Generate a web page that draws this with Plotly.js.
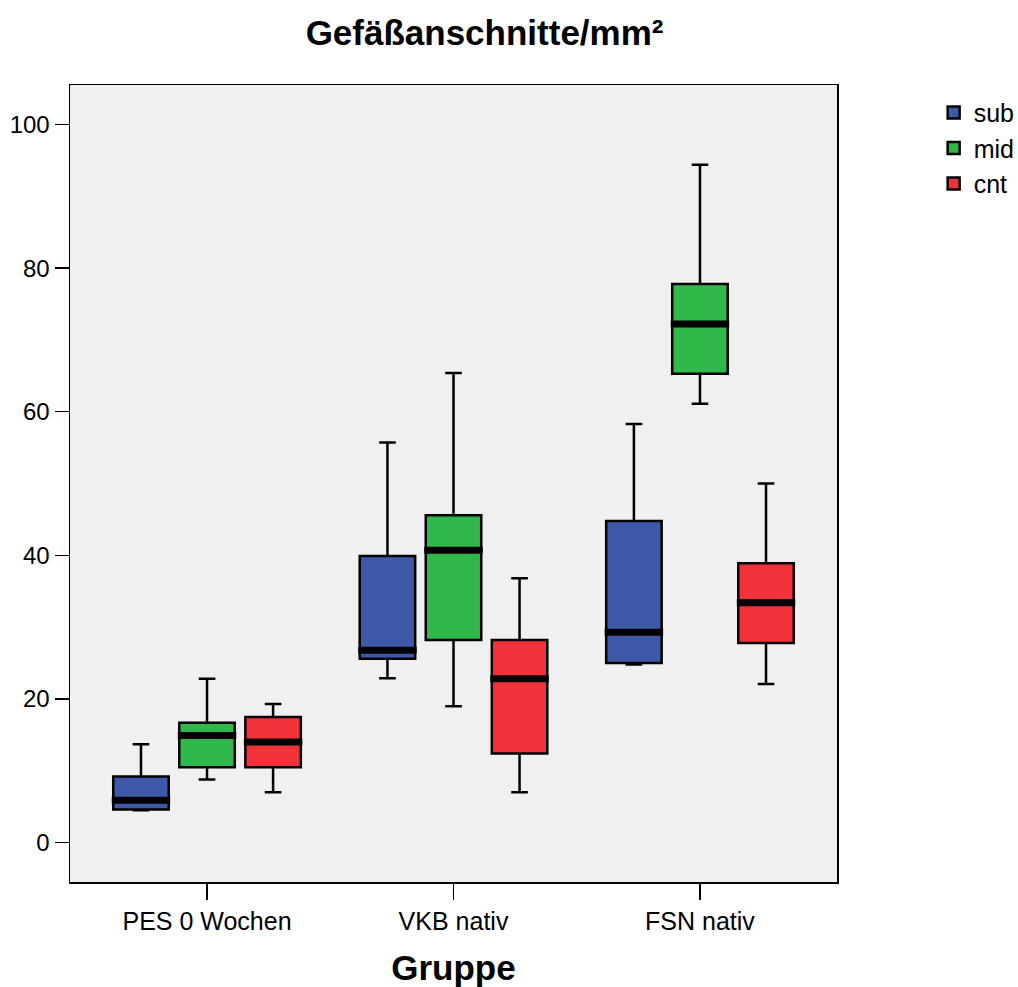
<!DOCTYPE html>
<html><head><meta charset="utf-8">
<script src="https://cdn.plot.ly/plotly-3.0.1.min.js"></script>
<style>html,body{margin:0;padding:0;background:#fff}</style>
</head><body>
<div id="chart" style="width:1018px;height:987px"></div>
<script>
// ---- data ----
const groups = ['PES 0 Wochen', 'VKB nativ', 'FSN nativ'];
const seriesNames = ['sub', 'mid', 'cnt'];
const seriesColors = ['#3e58aa', '#30b84a', '#f2323a'];

const subLower  = [4.5, 22.9, 24.8];
const subQ1     = [4.6, 25.6, 25.0];
const subMedian = [5.9, 26.8, 29.3];
const subQ3     = [9.2, 39.9, 44.8];
const subUpper  = [13.7, 55.7, 58.3];

const midLower  = [8.8, 19.0, 61.1];
const midQ1     = [10.5, 28.2, 65.3];
const midMedian = [14.9, 40.7, 72.2];
const midQ3     = [16.7, 45.6, 77.8];
const midUpper  = [22.8, 65.4, 94.4];

const cntLower  = [7.0, 7.0, 22.1];
const cntQ1     = [10.5, 12.4, 27.8];
const cntMedian = [14.0, 22.8, 33.4];
const cntQ3     = [17.5, 28.2, 38.9];
const cntUpper  = [19.3, 36.8, 50.0];

const yTicks = [0, 20, 40, 60, 80, 100];

// ---- build ----
const stats = [
  {lower: subLower, q1: subQ1, median: subMedian, q3: subQ3, upper: subUpper},
  {lower: midLower, q1: midQ1, median: midMedian, q3: midQ3, upper: midUpper},
  {lower: cntLower, q1: cntQ1, median: cntMedian, q3: cntQ3, upper: cntUpper}
];

const BOXGAP = 0.196, BOXGROUPGAP = 0.16;
const FONT = 'Liberation Sans, Arial, Helvetica, sans-serif';

const traces = stats.map((s, i) => ({
  type: 'box',
  name: seriesNames[i],
  x: groups,
  q1: s.q1, median: s.median, q3: s.q3,
  lowerfence: s.lower, upperfence: s.upper,
  fillcolor: seriesColors[i],
  line: {color: '#000000', width: 2.5},
  whiskerwidth: 0.3,
  boxpoints: false,
  hoverinfo: 'skip'
}));

// thick median bars, placed at each box's slot
const slot = (1 - BOXGAP) / seriesNames.length;
const halfW = slot * (1 - BOXGROUPGAP) / 2 + 0.006;
const shapes = [];
stats.forEach((s, i) => {
  s.median.forEach((m, j) => {
    const c = j + (i - (seriesNames.length - 1) / 2) * slot;
    shapes.push({type: 'line', xref: 'x', yref: 'y',
      x0: c - halfW, x1: c + halfW, y0: m, y1: m,
      line: {color: '#000000', width: 7}});
  });
});

const layout = {
  width: 1018, height: 987,
  paper_bgcolor: '#ffffff',
  plot_bgcolor: '#f0f0f0',
  margin: {l: 70, r: 181, t: 85, b: 105, autoexpand: false},
  font: {family: FONT, color: '#000000', size: 24},
  title: {text: 'Gefäßanschnitte/mm²', font: {family: FONT, size: 35, color: '#000000', weight: 'bold'},
          x: 0.476, xref: 'container', xanchor: 'center', y: 0.967, yref: 'container', yanchor: 'middle'},
  boxmode: 'group',
  boxgap: BOXGAP,
  boxgroupgap: BOXGROUPGAP,
  xaxis: {
    type: 'category',
    range: [-0.556, 2.556],
    showline: true, mirror: true, linecolor: '#000000', linewidth: 1.5,
    ticks: 'outside', ticklen: 16, tickwidth: 1.5, tickcolor: '#000000',
    showgrid: false, zeroline: false,
    tickfont: {family: FONT, size: 25, color: '#000000'},
    title: {text: 'Gruppe', font: {family: FONT, size: 35, color: '#000000', weight: 'bold'}, standoff: 22}
  },
  yaxis: {
    range: [-5.49, 105.5],
    tickvals: yTicks,
    showline: true, mirror: true, linecolor: '#000000', linewidth: 1.5,
    ticks: 'outside', ticklen: 14, tickwidth: 1.5, tickcolor: '#000000',
    showgrid: false, zeroline: false,
    tickfont: {family: FONT, size: 24, color: '#000000'}
  },
  showlegend: true,
  legend: {x: 1.126, y: 0.994, xanchor: 'left', yanchor: 'top',
           font: {family: FONT, size: 25, color: '#000000'},
           bgcolor: 'rgba(0,0,0,0)', traceorder: 'normal'},
  shapes: shapes
};

Plotly.newPlot('chart', traces, layout, {staticPlot: true, displayModeBar: false});
</script>
</body></html>
